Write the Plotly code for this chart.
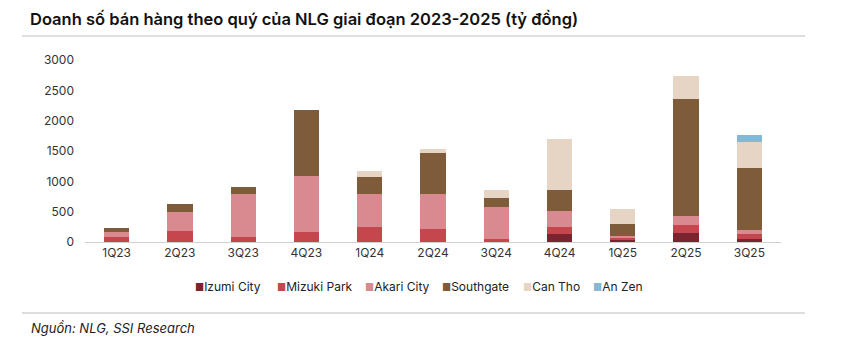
import plotly.graph_objects as go

categories = ["1Q23", "2Q23", "3Q23", "4Q23", "1Q24", "2Q24", "3Q24", "4Q24", "1Q25", "2Q25", "3Q25"]
izumi = [0, 0, 0, 0, 0, 0, 0, 125, 35, 155, 55]
mizuki = [90, 180, 85, 165, 245, 220, 45, 130, 35, 120, 85]
akari = [80, 315, 705, 930, 550, 575, 525, 255, 30, 160, 60]
southgate = [65, 135, 120, 1080, 280, 675, 150, 345, 205, 1930, 1015]
can_tho = [0, 0, 0, 0, 100, 55, 130, 840, 240, 375, 435]
an_zen = [0, 0, 0, 0, 0, 0, 0, 0, 0, 0, 110]

series_names = ["Izumi City", "Mizuki Park", "Akari City", "Southgate", "Can Tho", "An Zen"]
series_values = [izumi, mizuki, akari, southgate, can_tho, an_zen]
series_colors = ["#7a2430", "#c6464e", "#d98a90", "#7e5c3a", "#e6d5c5", "#86b7d3"]

FONT = "Inter, Roboto, sans-serif"
PLOT_L, PLOT_W = 85, 696

fig = go.Figure()
for name, vals, color in zip(series_names, series_values, series_colors):
    fig.add_trace(go.Bar(x=categories, y=vals, name=name, showlegend=False,
                         marker=dict(color=color, line=dict(width=0))))

# compact legend drawn as text (matches reference spacing)
legend_px = [193, 275, 363, 440, 521, 591]
annotations = []
for name, color, px in zip(series_names, series_colors, legend_px):
    annotations.append(dict(
        text=f"<span style='color:{color};font-size:10px'>■</span>{name}",
        xref="paper", yref="paper", x=(px - PLOT_L) / PLOT_W, y=(242 - 286) / 182,
        xanchor="left", yanchor="middle", showarrow=False,
        font=dict(family=FONT, size=12, color="#222222")))

annotations += [
    dict(text="Doanh số bán hàng theo quý của NLG giai đoạn 2023-2025 (tỷ đồng)",
         xref="paper", yref="paper", x=(28 - PLOT_L) / PLOT_W, y=(242 - 19) / 182,
         xanchor="left", yanchor="middle", showarrow=False,
         font=dict(family=FONT, size=16.5, color="#111111", weight=600)),
    dict(text="<i>Nguồn: NLG, SSI Research</i>",
         xref="paper", yref="paper", x=(29 - PLOT_L) / PLOT_W, y=(242 - 328) / 182,
         xanchor="left", yanchor="middle", showarrow=False,
         font=dict(family=FONT, size=13, color="#222222")),
]

fig.update_layout(
    barmode="stack",
    bargap=0.6,
    width=855, height=352,
    margin=dict(l=85, r=74, t=60, b=110),
    paper_bgcolor="white", plot_bgcolor="white",
    font=dict(family=FONT, size=12, color="#333333"),
    showlegend=False,
    xaxis=dict(showgrid=False, showline=True, linecolor="#d0d0d0", linewidth=1,
               ticks="", tickfont=dict(size=12, color="#333333")),
    yaxis=dict(range=[0, 3000], tickvals=[0, 500, 1000, 1500, 2000, 2500, 3000],
               showgrid=False, zeroline=False, showline=False, ticks="",
               tickfont=dict(size=12, color="#333333"), ticklabelstandoff=10),
    shapes=[
        dict(type="line", xref="paper", yref="paper", x0=(22 - PLOT_L) / PLOT_W, x1=(805 - PLOT_L) / PLOT_W,
             y0=(242 - 36) / 182, y1=(242 - 36) / 182, line=dict(color="#bdbdbd", width=1)),
        dict(type="line", xref="paper", yref="paper", x0=(22 - PLOT_L) / PLOT_W, x1=(805 - PLOT_L) / PLOT_W,
             y0=(242 - 313) / 182, y1=(242 - 313) / 182, line=dict(color="#bdbdbd", width=1)),
    ],
    annotations=annotations,
)

fig.write_html("out.html")
